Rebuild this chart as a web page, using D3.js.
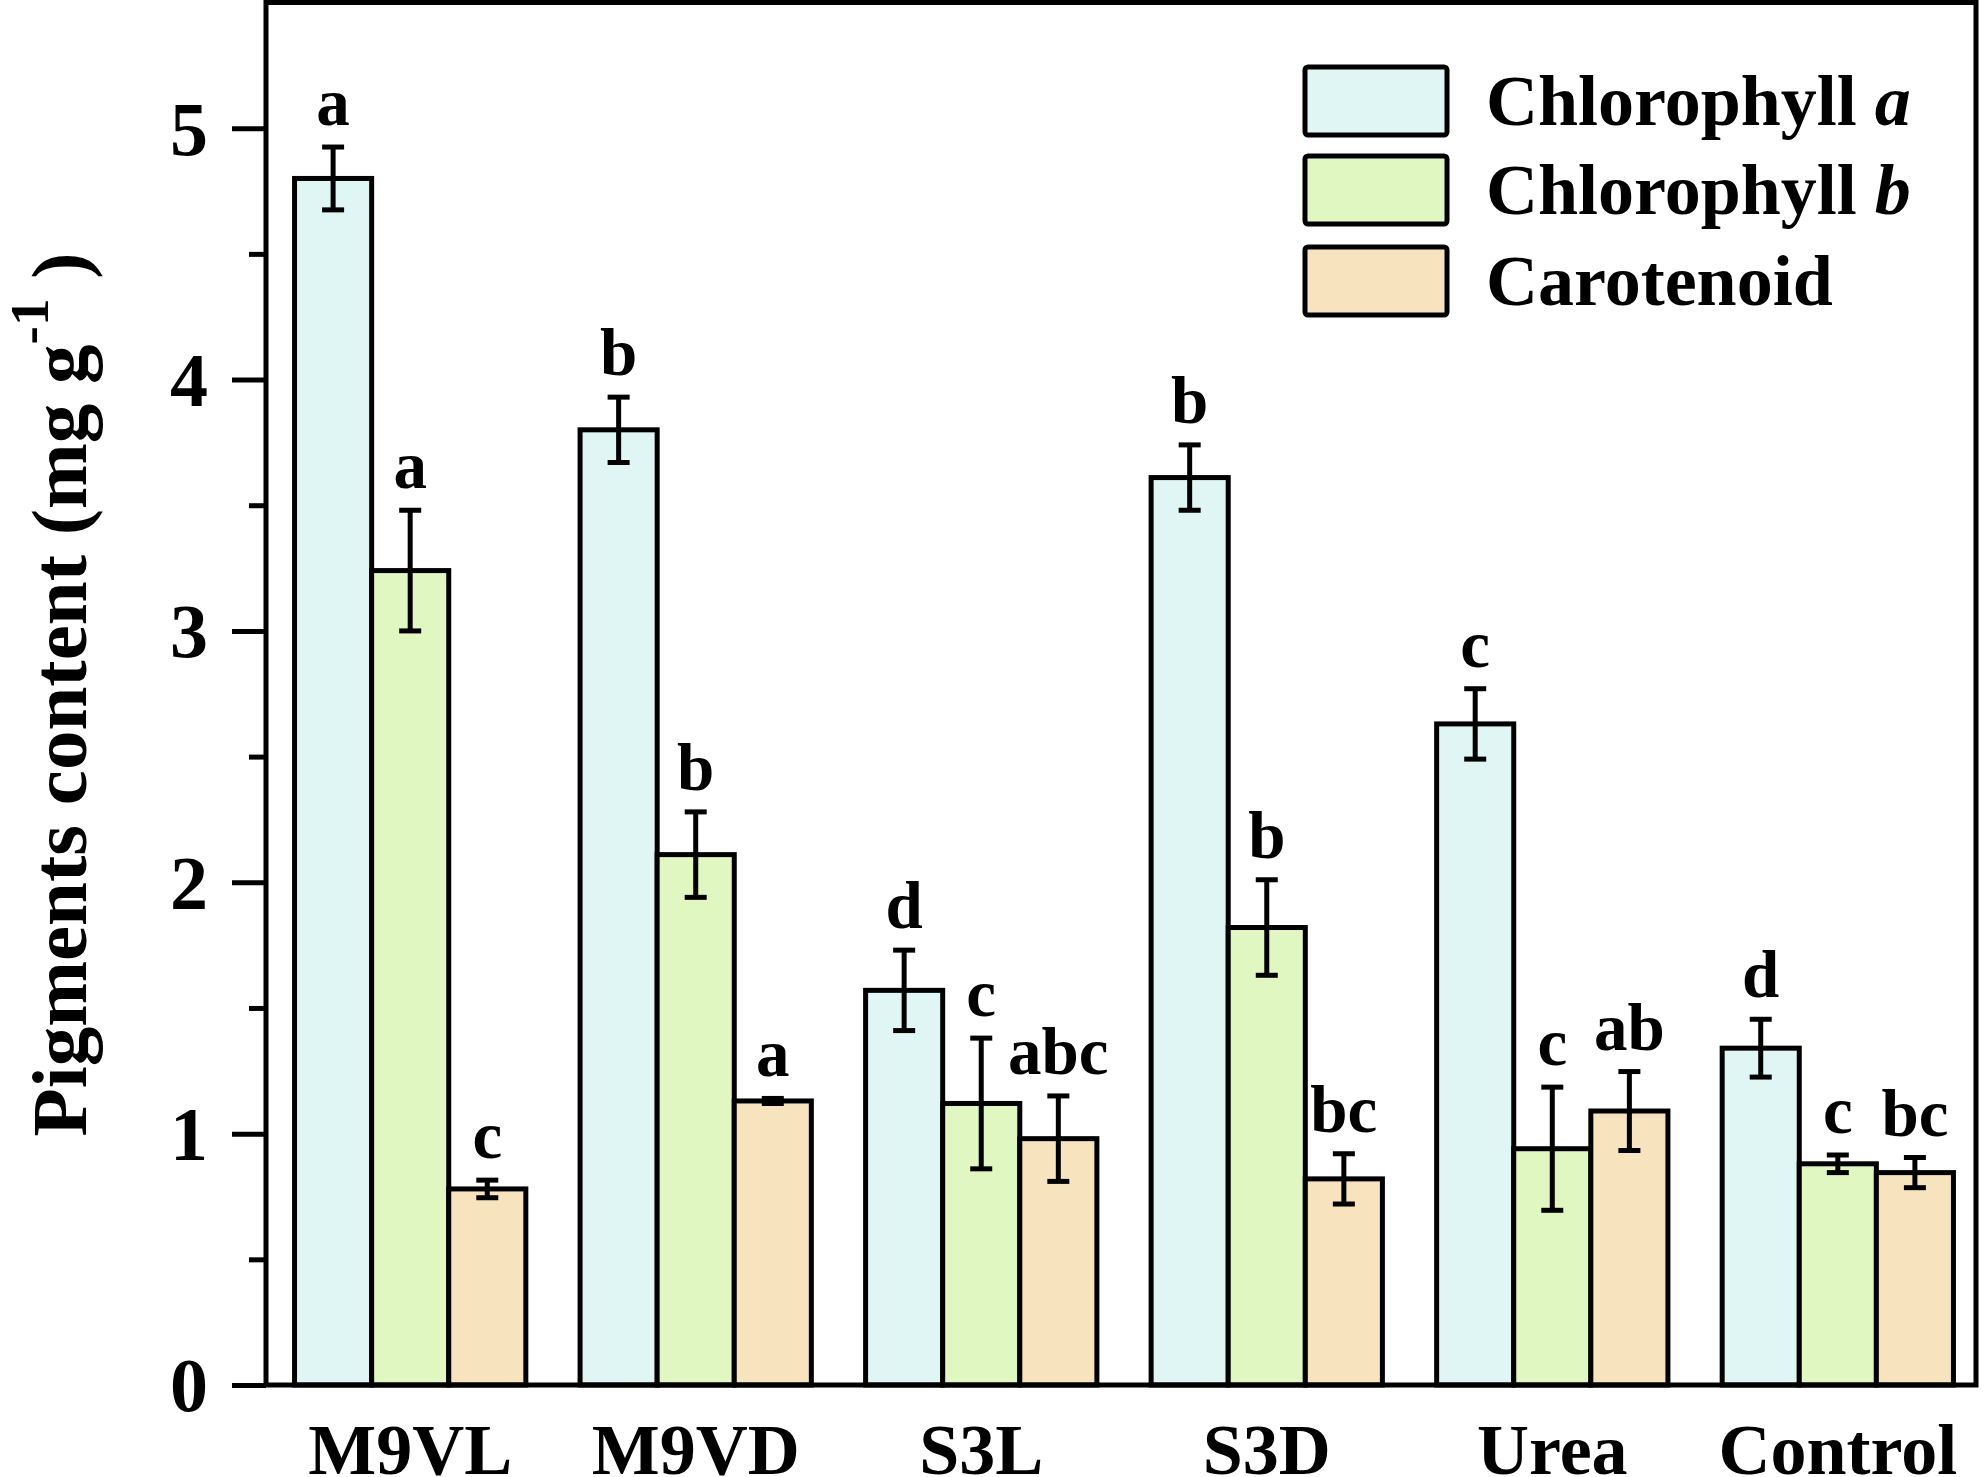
<!DOCTYPE html>
<html>
<head>
<meta charset="utf-8">
<script src="https://cdn.jsdelivr.net/npm/d3@7"></script>
<style>
  html, body { margin: 0; padding: 0; background: #ffffff; }
  svg { display: block; }
  text { font-family: "Liberation Serif", "Times New Roman", serif; font-weight: bold; fill: #000; }
</style>
</head>
<body>
<svg id="chart" width="1983" height="1477"></svg>
<script>
// ---- data ----
const categories = ["M9VL", "M9VD", "S3L", "S3D", "Urea", "Control"];
const seriesNames = ["Chlorophyll a", "Chlorophyll b", "Carotenoid"];
const chlA     = [4.80, 3.80, 1.57, 3.61, 2.63, 1.34];
const chlAErr  = [0.125, 0.13, 0.16, 0.13, 0.14, 0.115];
const chlB     = [3.24, 2.11, 1.12, 1.82, 0.94, 0.88];
const chlBErr  = [0.24, 0.17, 0.26, 0.19, 0.245, 0.035];
const carot    = [0.78, 1.13, 0.98, 0.82, 1.09, 0.845];
const carotErr = [0.035, 0.01, 0.17, 0.10, 0.157, 0.06];
const lettersA = ["a", "b", "d", "b", "c", "d"];
const lettersB = ["a", "b", "c", "b", "c", "c"];
const lettersC = ["c", "a", "abc", "bc", "ab", "bc"];
const yTicks = [0, 1, 2, 3, 4, 5];
const yMinorTicks = [0.5, 1.5, 2.5, 3.5, 4.5];
const colors = ["#E0F6F4", "#E0F7C2", "#F7E4BF"];

(function () {
const seriesVals = [chlA, chlB, carot];
const seriesErrs = [chlAErr, chlBErr, carotErr];
const seriesLetters = [lettersA, lettersB, lettersC];

// ---- layout ----
const mL = 266, mR = 1976, mT = 2.5, mB = 1385;
const svg = d3.select("#chart");

const y = d3.scaleLinear().domain([0, 5.5]).range([mB, mT]);
const x0 = d3.scaleBand().domain(categories).range([mL, 1982]).paddingInner(0.19).paddingOuter(0.1);
const x1 = d3.scaleBand().domain(d3.range(seriesNames.length)).range([0, x0.bandwidth()]).padding(0);

const rows = [];
categories.forEach((c, i) => {
  seriesVals.forEach((vals, s) => {
    rows.push({cat: c, s: s, v: vals[i], e: seriesErrs[s][i], l: seriesLetters[s][i]});
  });
});

// bars
const barG = svg.append("g");
barG.selectAll("rect").data(rows).join("rect")
  .attr("x", d => x0(d.cat) + x1(d.s))
  .attr("y", d => y(d.v))
  .attr("width", x1.bandwidth())
  .attr("height", d => y(0) - y(d.v))
  .attr("fill", d => colors[d.s])
  .attr("stroke", "#000")
  .attr("stroke-width", 5);

// error bars
const errG = svg.append("g").attr("stroke", "#000").attr("stroke-width", 5);
const cx = d => x0(d.cat) + x1(d.s) + x1.bandwidth() / 2;
const capW = 11;
errG.selectAll("line.v").data(rows).join("line").attr("class", "v")
  .attr("x1", cx).attr("x2", cx)
  .attr("y1", d => y(d.v + d.e)).attr("y2", d => y(d.v - d.e));
errG.selectAll("line.t").data(rows).join("line").attr("class", "t")
  .attr("x1", d => cx(d) - capW).attr("x2", d => cx(d) + capW)
  .attr("y1", d => y(d.v + d.e)).attr("y2", d => y(d.v + d.e));
errG.selectAll("line.b").data(rows).join("line").attr("class", "b")
  .attr("x1", d => cx(d) - capW).attr("x2", d => cx(d) + capW)
  .attr("y1", d => y(d.v - d.e)).attr("y2", d => y(d.v - d.e));

// significance letters
svg.append("g").selectAll("text").data(rows).join("text")
  .attr("x", cx)
  .attr("y", d => y(d.v + d.e) - 22)
  .attr("text-anchor", "middle")
  .attr("font-size", 67)
  .text(d => d.l);

// frame
svg.append("rect")
  .attr("x", mL).attr("y", mT)
  .attr("width", mR - mL).attr("height", mB - mT)
  .attr("fill", "none").attr("stroke", "#000").attr("stroke-width", 5);

// y axis
const yAxis = d3.axisLeft(y).tickValues(yTicks).tickSize(34).tickPadding(24).tickFormat(d3.format("d"));
const yAxisG = svg.append("g").attr("transform", `translate(${mL},0)`).call(yAxis);
yAxisG.select(".domain").remove();
yAxisG.selectAll(".tick line").attr("stroke", "#000").attr("stroke-width", 5);
yAxisG.selectAll(".tick text")
  .attr("font-size", 76).attr("font-family", "Liberation Serif, Times New Roman, serif")
  .attr("font-weight", "bold").attr("fill", "#000").attr("dy", "0.34em");
const yMinor = d3.axisLeft(y).tickValues(yMinorTicks).tickSize(17).tickFormat("");
const yMinorG = svg.append("g").attr("transform", `translate(${mL},0)`).call(yMinor);
yMinorG.select(".domain").remove();
yMinorG.selectAll(".tick line").attr("stroke", "#000").attr("stroke-width", 5);

// x axis labels
const xAxis = d3.axisBottom(x0).tickSize(0).tickPadding(0);
const xAxisG = svg.append("g").attr("transform", `translate(0,${mB})`).call(xAxis);
xAxisG.select(".domain").remove();
xAxisG.selectAll(".tick text")
  .attr("font-size", 72).attr("font-family", "Liberation Serif, Times New Roman, serif")
  .attr("font-weight", "bold").attr("fill", "#000")
  .attr("dy", null).attr("y", 89);

// y label
const yl = svg.append("text")
  .attr("transform", `translate(86,${(254 + 1135) / 2}) rotate(-90)`)
  .attr("text-anchor", "middle")
  .attr("font-size", 79);
yl.append("tspan").text("Pigments content (mg g");
yl.append("tspan").attr("font-size", 55).attr("dy", -38).text("-1");
yl.append("tspan").attr("dy", 38).text(" )");

// legend
const legend = svg.append("g");
const legRows = [0, 1, 2];
const legY = [67, 156, 247];
legend.selectAll("rect").data(legRows).join("rect")
  .attr("x", 1305).attr("y", d => legY[d])
  .attr("width", 142).attr("height", 68)
  .attr("rx", 3)
  .attr("fill", d => colors[d]).attr("stroke", "#000").attr("stroke-width", 5);
const lt = legend.selectAll("text").data(legRows).join("text")
  .attr("x", 1486).attr("y", d => legY[d] + 58)
  .attr("font-size", 72);
lt.each(function(d) {
  const t = d3.select(this);
  const name = seriesNames[d];
  const m = name.match(/^(Chlorophyll )([ab])$/);
  if (m) {
    t.append("tspan").text(m[1]);
    t.append("tspan").attr("font-style", "italic").text(m[2]);
  } else {
    t.text(name);
  }
});
})();
</script>
</body>
</html>
